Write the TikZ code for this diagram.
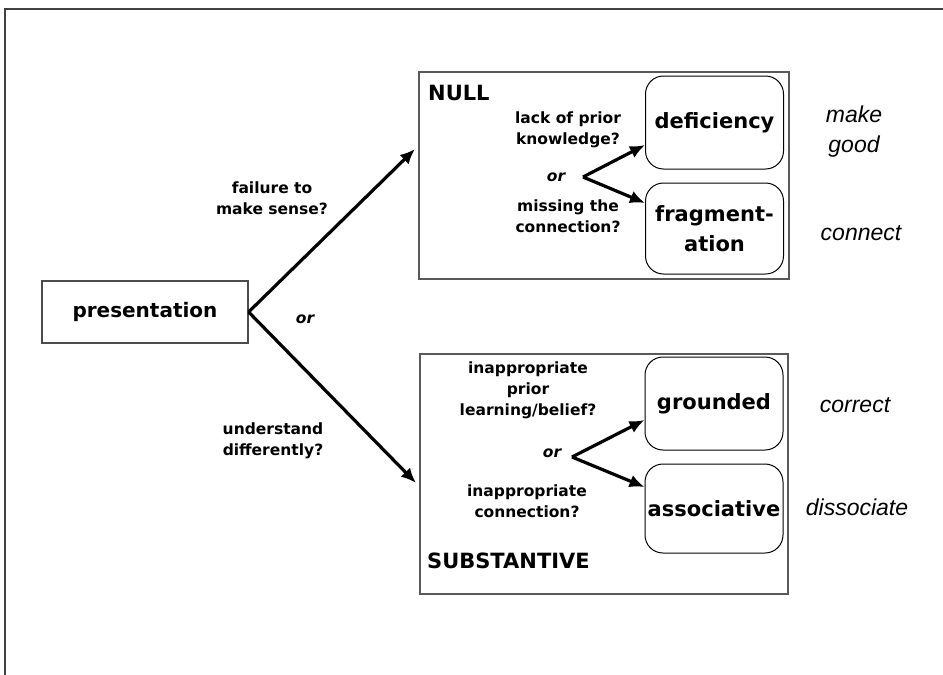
\documentclass[tikz,border=0pt]{standalone}
\usepackage{fontspec}
\setmainfont{DejaVu Sans}
\newfontfamily\labfont{Liberation Sans}
\usetikzlibrary{arrows.meta}
\begin{document}
\begin{tikzpicture}[x=1pt,y=-1pt,
  heavy/.style={font=\bfseries\fontsize{21}{30}\selectfont},
  small/.style={font=\bfseries\fontsize{15.5}{21}\selectfont, align=center, inner sep=0pt},
  ortext/.style={font=\bfseries\itshape\fontsize{15.5}{20}\selectfont, inner sep=0pt},
  actlab/.style={font=\labfont\itshape\fontsize{23}{30}\selectfont, align=center, inner sep=0pt},
  bigbox/.style={draw=black!65, line width=1.6pt, minimum width=#1, inner sep=0pt},
  optbox/.style={draw=black, line width=1pt, rounded corners=18pt, inner sep=0pt, minimum width=138pt, align=center, heavy},
  arr/.style={line width=3.2pt, line join=round, -{Latex[length=15pt,width=13pt]}},
  frameline/.style={draw=black!75, line width=1.5pt}
]
\useasboundingbox (0,0) rectangle (943,675);
\fill[white] (0,0) rectangle (943,675);
\draw[frameline] (5,675) -- (5,9) -- (943,9);

% main boxes
\node[draw=black!70, line width=1.2pt, minimum width=206pt, minimum height=62pt, inner sep=0pt, font=\bfseries\fontsize{20}{24}\selectfont] (pres) at (145,312) {presentation};
\node[bigbox=370pt, minimum height=207pt] (nullbox) at (604,175.5) {};
\node[bigbox=368pt, minimum height=240pt] (subbox) at (604,474) {};

% option boxes
\node[optbox, minimum height=93pt] (def) at (714.5,122.5) {deficiency};
\node[optbox, minimum height=91pt] (frag) at (714.5,228.5) {fragment-\\ation};
\node[optbox, minimum height=93pt] (grd) at (714,403.5) {grounded};
\node[optbox, minimum height=89pt] (assoc) at (714,508.5) {associative};

% labels
\node[heavy, anchor=west, inner sep=0pt] (nulllab) at (428,93) {NULL};
\node[heavy, anchor=west, inner sep=0pt] (sublab) at (427,561) {SUBSTANTIVE};
\node[small] (lack) at (568,130) {lack of prior\\knowledge?};
\node[ortext] (or1) at (556,177) {or};
\node[small] (miss) at (568,216.5) {missing the\\connection?};
\node[small] (fail) at (272,198.5) {failure to\\make sense?};
\node[ortext] (or0) at (305,319) {or};
\node[small] (under) at (273,441) {understand\\differently?};
\node[small] (inapp1) at (528,390) {inappropriate\\prior\\learning/belief?};
\node[ortext] (or2) at (552,453) {or};
\node[small] (inapp2) at (527,501.5) {inappropriate\\connection?};

\node[actlab] (make) at (854,132) {make\\good};
\node[actlab] (conn) at (861,233) {connect};
\node[actlab] (corr) at (855,405) {correct};
\node[actlab] (diss) at (857,507) {dissociate};

% connectors
\coordinate (upTip) at (415,149);
\coordinate (downTip) at (416,483);
\draw[arr] (pres.east) -- (upTip);
\draw[arr] (pres.east) -- (downTip);

\coordinate (fork1) at (583,177);
\coordinate (fork2) at (572,457);
\draw[arr] (fork1) -- ([yshift=-22.5pt]def.west);
\draw[arr] (fork1) -- ([yshift=25.5pt]frag.west);
\draw[arr] (fork2) -- ([yshift=-16.5pt]grd.west);
\draw[arr] (fork2) -- ([yshift=21.5pt]assoc.west);
\end{tikzpicture}
\end{document}
